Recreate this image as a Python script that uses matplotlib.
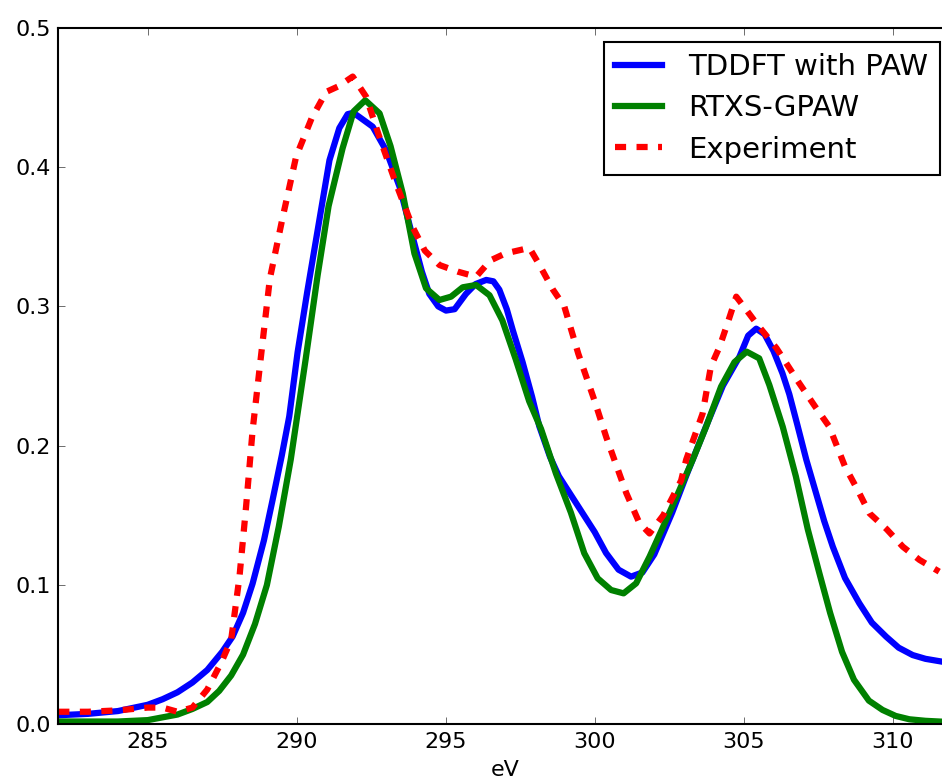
import matplotlib
matplotlib.use("Agg")
import matplotlib.pyplot as plt
import numpy as np

### Data ###
#TDDFT with PAW (smooth curve)
tddft_ev = [282.0, 283.0, 284.0, 285.0, 285.5, 286.0, 286.5, 287.0, 287.5, 287.85,
            288.2, 288.52, 288.9, 289.19, 289.5, 289.75, 290.03, 290.35, 290.65, 291.1,
            291.43, 291.71, 291.9, 292.1, 292.55, 293.0, 293.45, 293.89, 294.2, 294.45,
            294.75, 295.01, 295.3, 295.68, 296.0, 296.36, 296.6, 296.8, 297.05, 297.25,
            297.58, 297.9, 298.14, 298.5, 298.8, 299.25, 299.7, 300.0, 300.38, 300.8,
            301.22, 301.6, 302.0, 302.6, 303.1, 303.74, 304.3, 304.86, 305.15, 305.42,
            305.7, 306.0, 306.3, 306.53, 306.8, 307.1, 307.4, 307.7, 307.99, 308.4,
            308.88, 309.3, 309.78, 310.2, 310.67, 311.1, 311.65]
tddft_abs = [0.0065, 0.0075, 0.0095, 0.014, 0.018, 0.023, 0.030, 0.039, 0.052, 0.063,
             0.08, 0.101, 0.132, 0.161, 0.193, 0.221, 0.267, 0.31, 0.348, 0.405,
             0.428, 0.438, 0.439, 0.436, 0.429, 0.412, 0.386, 0.35, 0.325, 0.309,
             0.300, 0.297, 0.298, 0.309, 0.316, 0.319, 0.318, 0.312, 0.298, 0.283,
             0.260, 0.235, 0.214, 0.192, 0.178, 0.163, 0.148, 0.138, 0.123, 0.111,
             0.106, 0.109, 0.122, 0.152, 0.180, 0.214, 0.243, 0.264, 0.279, 0.284,
             0.280, 0.268, 0.252, 0.237, 0.215, 0.19, 0.168, 0.146, 0.1275, 0.105,
             0.0869, 0.073, 0.0629, 0.055, 0.0497, 0.047, 0.045]

#RTXS-GPAW (coarse grid)
rtxs_ev = [282.0, 283.0, 284.0, 285.0, 285.5, 286.0, 286.5, 287.0, 287.4, 287.8,
           288.2, 288.6, 289.0, 289.4, 289.8, 290.3, 290.7, 291.07, 291.54, 291.91,
           292.3, 292.78, 293.15, 293.56, 293.95, 294.34, 294.79, 295.18, 295.57, 296.02,
           296.47, 296.9, 297.35, 297.8, 298.2, 298.7, 299.2, 299.65, 300.1, 300.55,
           300.97, 301.39, 301.84, 302.3, 302.8, 303.29, 303.74, 304.24, 304.69, 305.1,
           305.52, 305.86, 306.31, 306.75, 307.15, 307.54, 307.9, 308.3, 308.7, 309.2,
           309.66, 310.1, 310.56, 311.1, 311.65]
rtxs_abs = [0.002, 0.002, 0.002, 0.003, 0.005, 0.007, 0.011, 0.016, 0.024, 0.035,
            0.05, 0.072, 0.10, 0.142, 0.19, 0.262, 0.322, 0.372, 0.4135, 0.44,
            0.448, 0.4386, 0.415, 0.381, 0.338, 0.313, 0.3046, 0.307, 0.3137, 0.3154,
            0.308, 0.29, 0.262, 0.232, 0.212, 0.18, 0.152, 0.1228, 0.1048, 0.0964,
            0.094, 0.1012, 0.1203, 0.142, 0.166, 0.19, 0.2137, 0.2424, 0.260, 0.2675,
            0.2627, 0.2436, 0.2136, 0.178, 0.14, 0.1084, 0.080, 0.052, 0.032, 0.017,
            0.0103, 0.006, 0.0036, 0.0025, 0.0019]

#Experiment
exp_ev = [282.0, 283.0, 284.0, 285.0, 285.5, 286.0, 286.5, 287.0, 287.46, 287.8,
          288.08, 288.3, 288.52, 288.8, 289.1, 289.53, 289.98, 290.5, 290.99, 291.4,
          291.88, 292.33, 292.8, 293.3, 293.89, 294.3, 294.79, 295.4, 296.02, 296.5,
          297.0, 297.81, 298.14, 298.6, 298.98, 299.45, 300.0, 300.39, 301.06, 301.5,
          301.84, 302.3, 302.9, 303.07, 303.62, 303.9, 304.19, 304.46, 304.75, 305.0,
          305.42, 306.1, 306.86, 307.4, 307.87, 308.4, 308.83, 309.22, 309.8, 310.34,
          310.9, 311.56]
exp_abs = [0.009, 0.009, 0.010, 0.012, 0.012, 0.009, 0.012, 0.025, 0.044, 0.0605,
           0.106, 0.156, 0.211, 0.264, 0.32, 0.364, 0.4075, 0.435, 0.454, 0.458,
           0.465, 0.4505, 0.42, 0.39, 0.357, 0.34, 0.3297, 0.325, 0.3213, 0.333,
           0.338, 0.342, 0.330, 0.312, 0.300, 0.266, 0.232, 0.206, 0.166, 0.1445,
           0.137, 0.15, 0.175, 0.190, 0.223, 0.257, 0.271, 0.288, 0.307, 0.300,
           0.288, 0.27, 0.245, 0.228, 0.2137, 0.185, 0.168, 0.1515, 0.14, 0.1275,
           0.118, 0.1096]

labels = ["TDDFT with PAW", "RTXS-GPAW", "Experiment"]
x_ticks = [285, 290, 295, 300, 305, 310]
y_ticks = [0.0, 0.1, 0.2, 0.3, 0.4, 0.5]

### Style (old matplotlib look) ###
plt.rcParams['font.family'] = ['DejaVu Sans']
plt.rcParams['lines.scale_dashes'] = False
plt.rcParams['xtick.direction'] = 'in'
plt.rcParams['ytick.direction'] = 'in'

fig = plt.figure(figsize=(9.42, 7.83), dpi=100)
#axes run a bit past the right edge of the figure, like the cropped original
ax = fig.add_axes([58.3/942, 58.7/783, 894/942, 696.5/783])

ax.plot(tddft_ev, tddft_abs, color='blue', lw=4.5, label=labels[0])
ax.plot(rtxs_ev, rtxs_abs, color='green', lw=4.5, label=labels[1])
ax.plot(exp_ev, exp_abs, color='red', lw=4.5, dashes=(8, 7.5),
        dash_capstyle='butt', label=labels[2])

ax.set_xlim(282, 312)
ax.set_ylim(0, 0.5)
ax.set_xticks(x_ticks)
ax.set_yticks(y_ticks)
ax.set_yticklabels(["%.1f" % v for v in y_ticks])
ax.tick_params(which='both', top=True, right=True, length=5, width=0.6,
               color='#555555', labelsize=16, pad=5.5)
for sp in ax.spines.values():
    sp.set_linewidth(1.5)
ax.set_xlabel("eV", fontsize=16, labelpad=6)

leg = ax.legend(loc='upper right', bbox_to_anchor=(940/942, 1 - 41.7/783),
                bbox_transform=fig.transFigure, borderaxespad=0, fontsize=21,
                fancybox=False, framealpha=1, edgecolor='black', borderpad=0.4,
                labelspacing=0.45, handlelength=1.6, handletextpad=0.9)
leg.get_frame().set_linewidth(1.5)

fig.savefig("out.png", dpi=100)
